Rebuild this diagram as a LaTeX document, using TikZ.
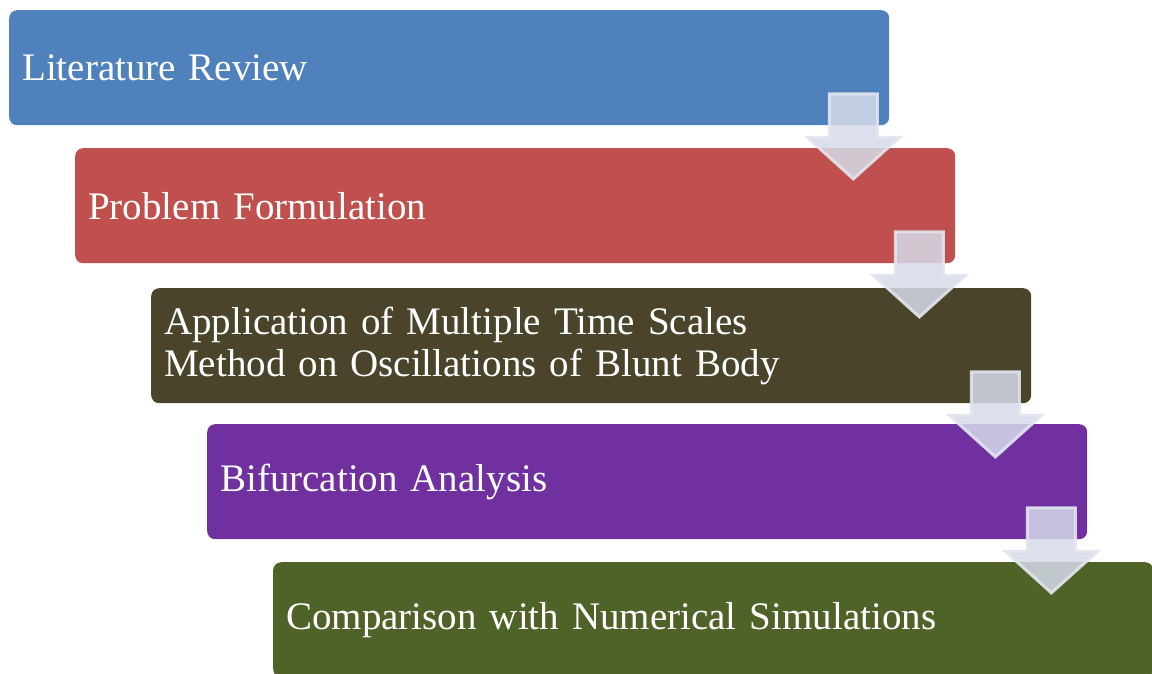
\documentclass[tikz,border=0pt]{standalone}
\usepackage{fontspec}
\setmainfont{Liberation Serif}
\usetikzlibrary{positioning,calc,shapes.arrows}
\definecolor{reviewblue}{RGB}{79,129,189}
\definecolor{formulationred}{RGB}{192,80,77}
\definecolor{applicationolive}{RGB}{73,68,42}
\definecolor{bifurcationpurple}{RGB}{112,48,160}
\definecolor{comparisongreen}{RGB}{79,98,40}
\definecolor{arrowfill}{RGB}{214,219,233}
\definecolor{arrowline}{RGB}{226,229,239}

\begin{document}
\begin{tikzpicture}[x=1pt, y=-1pt,
    stage/.style={anchor=north west, rounded corners=8pt, text=white,
        text width=854pt, inner xsep=13pt, inner ysep=0pt, minimum height=115pt,
        align=left, font=\fontsize{39}{42}\selectfont},
    downarrow/.style={single arrow, rotate=-90, anchor=tail, inner sep=0pt, inner ysep=22.5pt,
        minimum height=85pt, single arrow head extend=22pt, single arrow tip angle=96,
        fill=arrowfill, fill opacity=0.85, draw=arrowline, draw opacity=0.9, line width=3pt}]

                % frame
                \useasboundingbox (0,0) rectangle (1152,673);
                \clip (0,0) rectangle (1152,673);

                % stages
                \foreach \stage/\colour/\px/\py/\txt in {
                    review/reviewblue/9/10/{Literature Review},
                    formulation/formulationred/75/148/{Problem Formulation},
                    application/applicationolive/151/288/{Application of Multiple Time Scales\\Method on Oscillations of Blunt Body},
                    bifurcation/bifurcationpurple/207/424/{Bifurcation Analysis},
                    comparison/comparisongreen/273/562/{Comparison with Numerical Simulations}}
                    \node [stage, fill=\colour] (\stage) at (\px,\py) {\txt};

                % arrows between stages
                \foreach \a [count=\i] in {review, formulation, application, bifurcation}
                    \node [downarrow] (arrow-\i) at ($(\a.south east)+(-36,-33)$) {};

\end{tikzpicture}
\end{document}
